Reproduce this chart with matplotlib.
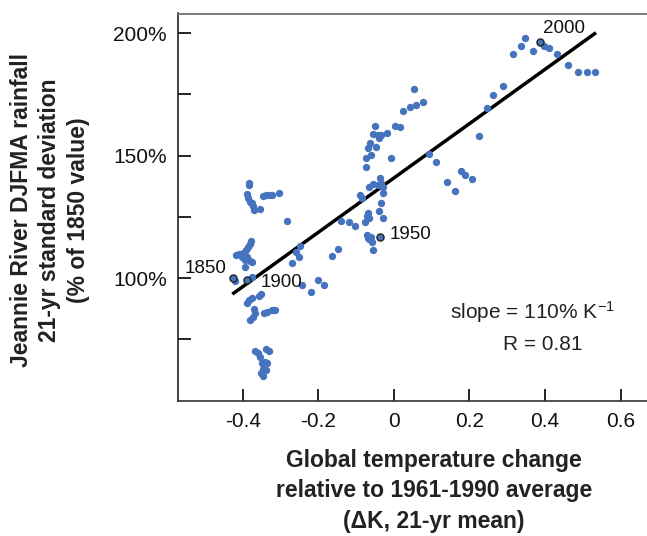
import matplotlib
matplotlib.use("Agg")
import matplotlib.pyplot as plt
import numpy as np

plt.rcParams['font.family'] = ['Liberation Sans', 'DejaVu Sans']
plt.rcParams['mathtext.fontset'] = 'custom'
plt.rcParams['mathtext.rm'] = 'Liberation Sans'
plt.rcParams['mathtext.it'] = 'Liberation Sans'

# ---- data ----
temp_change = [
    -0.383, -0.383, -0.389, -0.386, -0.381, -0.377, -0.373, -0.370, -0.355, -0.348,
    -0.339, -0.330, -0.324, -0.305, -0.283,
    -0.379, -0.381, -0.386, -0.392, -0.399, -0.410, -0.417, -0.403, -0.395, -0.389,
    -0.380, -0.375, -0.395, -0.421, -0.375,
    -0.249, -0.260, -0.251, -0.270, -0.243, -0.220, -0.200,
    -0.352, -0.357, -0.377, -0.383, -0.389, -0.371, -0.368, -0.373, -0.380, -0.344,
    -0.336, -0.324, -0.315,
    -0.368, -0.359, -0.339, -0.330, -0.355, -0.350, -0.342, -0.336, -0.339, -0.348,
    -0.353, -0.346,
    -0.139, -0.118, -0.103, -0.148, -0.165, -0.185, -0.033, -0.039, -0.068, -0.072,
    -0.065, -0.077, -0.030, -0.072, -0.065, -0.059, -0.055, -0.068, -0.062,
    0.054, 0.076, 0.058, 0.042, 0.025, 0.003, 0.016, -0.050, -0.055, -0.043,
    -0.033, -0.019, -0.039, -0.064, -0.070, -0.048, -0.062, -0.074, -0.075, -0.008,
    0.093, 0.111, 0.140, -0.037, -0.056, -0.066, -0.043, -0.033, -0.028, -0.030,
    -0.090, -0.084,
    0.347, 0.336, 0.316, 0.369, 0.396, 0.411, 0.433, 0.460, 0.486, 0.512,
    0.532, 0.290, 0.261, 0.246, 0.224, 0.177, 0.189, 0.206, 0.162,
]
rain_sd = [
    138.9, 137.9, 134.2, 132.6, 131.2, 130.5, 129.4, 127.8, 128.1, 133.5,
    133.8, 133.9, 134.0, 134.8, 123.3,
    115.2, 113.9, 112.8, 111.4, 110.3, 109.8, 109.4, 108.5, 107.6, 108.7,
    107.1, 106.7, 104.6, 98.9, 100.5,
    113.1, 110.7, 108.5, 106.3, 97.4, 94.4, 99.2,
    93.7, 92.6, 92.1, 91.0, 89.9, 87.6, 85.8, 84.2, 83.1, 85.6,
    86.2, 86.9, 87.2,
    70.2, 69.5, 70.9, 70.2, 67.9, 65.4, 65.8, 65.2, 62.7, 63.1,
    61.3, 60.0,
    123.3, 123.0, 121.2, 112.1, 109.0, 97.4, 130.8, 127.5, 126.7, 125.3,
    124.4, 123.0, 124.4, 117.6, 115.8, 114.8, 111.4, 116.5, 117.0,
    177.1, 171.8, 170.7, 169.7, 168.2, 162.1, 161.6, 162.2, 158.7, 158.4,
    158.4, 159.1, 157.1, 155.0, 153.0, 153.6, 150.2, 149.2, 145.5, 148.9,
    150.7, 147.3, 139.1, 141.0, 138.3, 137.3, 138.0, 138.7, 137.3, 134.6,
    133.9, 132.6,
    197.9, 194.9, 191.5, 192.9, 194.8, 193.8, 191.4, 187.0, 184.3, 184.0,
    184.3, 178.4, 174.6, 169.6, 158.1, 143.7, 142.1, 140.4, 135.5,
]

label_years = ['1850', '1900', '1950', '2000']
label_x = [-0.427, -0.389, -0.037, 0.388]
label_y = [100.0, 99.2, 116.8, 196.4]

fit_x = [-0.428, 0.535]
fit_slope = 110.8
fit_intercept = 140.9

x_ticks = [-0.4, -0.2, 0.0, 0.2, 0.4, 0.6]
x_ticklabels = ['-0.4', '-0.2', '0', '0.2', '0.4', '0.6']
y_ticks = [75, 100, 125, 150, 175, 200]
y_ticklabels = ['', '100%', '', '150%', '', '200%']

# ---- figure ----
W, H = 647, 536
fig = plt.figure(figsize=(W / 100, H / 100), dpi=100)
ax = fig.add_axes([178.3 / W, 1 - 400.7 / H, 1 - 178.3 / W, (400.7 - 13.5) / H])

blue = '#4673be'
ax.scatter(temp_change, rain_sd, s=28, color=blue, linewidths=0, zorder=3)

fx = np.array(fit_x)
ax.plot(fx, fit_intercept + fit_slope * fx, color='black', lw=2.5,
        solid_capstyle='butt', zorder=2)

ax.scatter(label_x, label_y, s=26, facecolor=blue, edgecolor='#222222',
           linewidths=1.0, zorder=4)

offsets = {'1850': (-4.5, 7, 'right'), '1900': (10, -1.5, 'left'),
           '1950': (7, 1.5, 'left'), '2000': (1.5, 10, 'left')}
for yr, lx, ly in zip(label_years, label_x, label_y):
    dx, dy, ha = offsets[yr]
    ax.annotate(yr, (lx, ly), xytext=(dx, dy), textcoords='offset points',
                ha=ha, va='center', fontsize=13.5, color='#111111')

ax.text(0.368, 86.3, r'slope = 110% K$^{-1}$', ha='center', va='center',
        fontsize=15, color='#222222')
ax.text(0.395, 73.0, 'R = 0.81', ha='center', va='center',
        fontsize=15, color='#222222')

ax.set_xlim(-0.571, 0.670)
ax.set_ylim(50, 208)
ax.set_xticks(x_ticks)
ax.set_xticklabels(x_ticklabels)
ax.set_yticks(y_ticks)
ax.set_yticklabels(y_ticklabels)
ax.tick_params(direction='in', length=9, width=1.4, labelsize=15,
               color='#222222', labelcolor='#111111')
ax.tick_params(axis='x', pad=8.0)
ax.tick_params(axis='y', pad=8.4)

ax.spines['right'].set_visible(False)
ax.spines['top'].set_color('#707070')
ax.spines['top'].set_linewidth(1.3)
ax.spines['left'].set_color('#222222')
ax.spines['left'].set_linewidth(1.2)
ax.spines['bottom'].set_color('#333333')
ax.spines['bottom'].set_linewidth(1.2)

fig.text(50 / W, 1 - 210 / H,
         'Jeannie River DJFMA rainfall\n21-yr standard deviation\n(% of 1850 value)',
         rotation=90, ha='center', va='center', fontsize=16.5, fontweight='bold',
         color='#222222', linespacing=1.3, multialignment='center')
fig.text(434 / W, 1 - 491 / H,
         'Global temperature change\nrelative to 1961-1990 average\n(\u0394K, 21-yr mean)',
         ha='center', va='center', fontsize=16.5, fontweight='bold',
         color='#222222', linespacing=1.4, multialignment='center')

fig.savefig('out.png', dpi=100)
